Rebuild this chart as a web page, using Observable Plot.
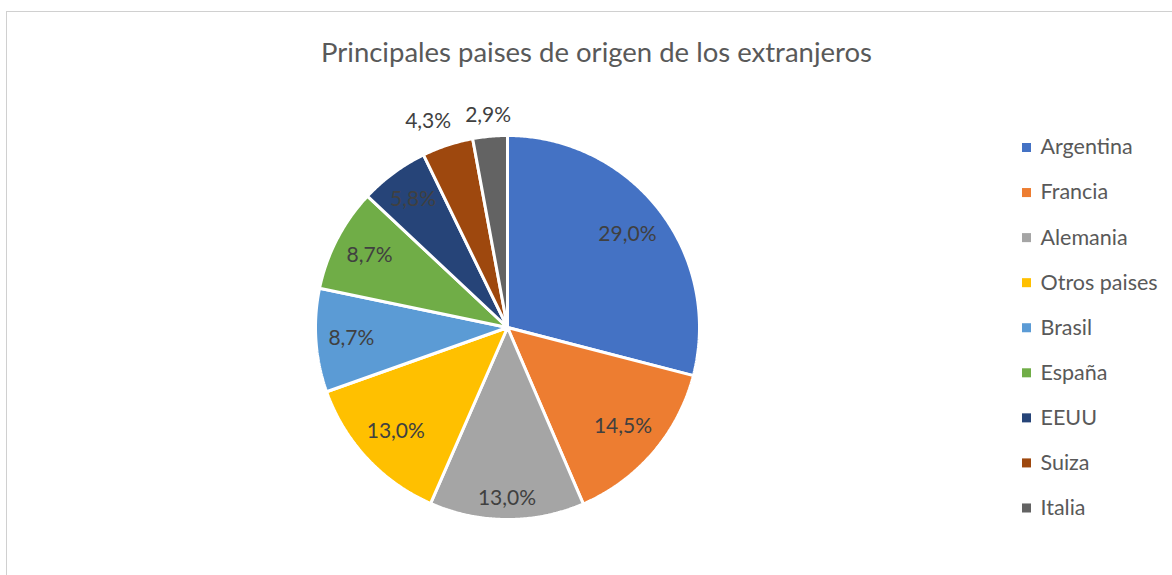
<!DOCTYPE html>
<html>
<head>
<meta charset="utf-8">
<script src="https://cdn.jsdelivr.net/npm/d3@7"></script>
<script src="https://cdn.jsdelivr.net/npm/@observablehq/plot@0.6"></script>
<style>
  html, body { margin: 0; padding: 0; background: #fff; }
  #wrap { position: relative; width: 1172px; height: 575px; overflow: hidden; }
  #border { position: absolute; left: 6px; top: 11px; right: -10px; bottom: -10px;
            border-left: 1px solid #d0d0d0; border-top: 1px solid #d0d0d0; pointer-events: none; }
  svg { display: block; }
</style>
</head>
<body>
<div id="wrap"><div id="border"></div></div>
<script>
// ---- data ----
const title = "Principales paises de origen de los extranjeros";
const countries = ["Argentina", "Francia", "Alemania", "Otros paises", "Brasil", "España", "EEUU", "Suiza", "Italia"];
const shares = [29.0, 14.5, 13.0, 13.0, 8.7, 8.7, 5.8, 4.3, 2.9];
const colors = ["#4472C4", "#ED7D31", "#A5A5A5", "#FFC000", "#5B9BD5", "#70AD47", "#264478", "#9E480E", "#636363"];

// ---- layout ----
const W = 1172, H = 575;
const cx = 507, cy = 327, R = 192;
const fontFamily = "Lato, 'Open Sans', sans-serif";
const labelSize = 21;

const rows = countries.map((name, i) => ({name, value: shares[i], label: shares[i].toFixed(1).replace(".", ",") + "%"}));
const arcs = d3.pie().sort(null).value(d => d.value)(rows);

const pt = (a, r) => [cx + r * Math.sin(a), cy - r * Math.cos(a)];

const slices = arcs.map(a => {
  const ring = [[cx, cy]];
  const n = Math.max(2, Math.ceil((a.endAngle - a.startAngle) / (Math.PI / 360)));
  for (let k = 0; k <= n; k++) ring.push(pt(a.startAngle + (a.endAngle - a.startAngle) * k / n, R));
  ring.push([cx, cy]);
  return {type: "Feature", properties: {name: a.data.name}, geometry: {type: "Polygon", coordinates: [ring]}};
});

// label placement: box kept a fixed padding from the rim (inside for big slices, outside for small)
const ctx = document.createElement("canvas").getContext("2d");
ctx.font = `${labelSize}px Lato`;
const labelPts = arcs.map(a => {
  const mid = (a.startAngle + a.endAngle) / 2;
  const hw = ctx.measureText(a.data.label).width / 2, hh = labelSize * 0.42;
  const ext = Math.abs(Math.sin(mid)) * hw + Math.abs(Math.cos(mid)) * hh;
  const outside = a.data.value < 5;
  const r = outside ? R + 10 + ext : R - 12 - ext;
  const [x, y] = pt(mid, r);
  return {x, y, hw, hh, outside, label: a.data.label};
});
// push overlapping outside labels apart (later slice keeps its place, earlier one moves left)
for (let i = labelPts.length - 2; i >= 0; i--) {
  const a = labelPts[i], b = labelPts[i + 1];
  if (!a.outside || !b.outside) continue;
  const overlapX = (a.x + a.hw + 14) - (b.x - b.hw);
  const overlapY = Math.abs(a.y - b.y) < a.hh + b.hh;
  if (overlapX > 0 && overlapY) a.x -= overlapX;
}

const legendTop = 147, legendStep = 45.06, legendX = 1026;
const legend = countries.map((name, i) => ({name, x: legendX, y: legendTop + i * legendStep}));

const chart = Plot.plot({
  width: W,
  height: H,
  margin: 0,
  projection: {type: "identity", domain: {type: "MultiPoint", coordinates: [[0, 0], [W, H]]}},
  color: {domain: countries, range: colors},
  style: {background: "transparent"},
  marks: [
    Plot.geo(slices, {fill: d => d.properties.name, stroke: "white", strokeWidth: 3, strokeLinejoin: "miter"}),
    Plot.text(labelPts, {x: "x", y: "y", text: "label", fontSize: labelSize, fontFamily, fill: "#404040", textAnchor: "middle", lineAnchor: "middle"}),
    Plot.dot(legend, {x: "x", y: "y", fill: "name", symbol: "square", r: 5.1, stroke: null}),
    Plot.text(legend, {x: "x", y: "y", text: "name", dx: 14, fontSize: 21.5, fontFamily, fill: "#595959", textAnchor: "start", lineAnchor: "middle"}),
    Plot.text([title], {frameAnchor: "top", dx: 10, dy: 53, text: d => d, fontSize: 27.5, fontFamily, fill: "#595959", textAnchor: "middle", lineAnchor: "middle"})
  ]
});
document.getElementById("wrap").prepend(chart);
</script>
</body>
</html>
